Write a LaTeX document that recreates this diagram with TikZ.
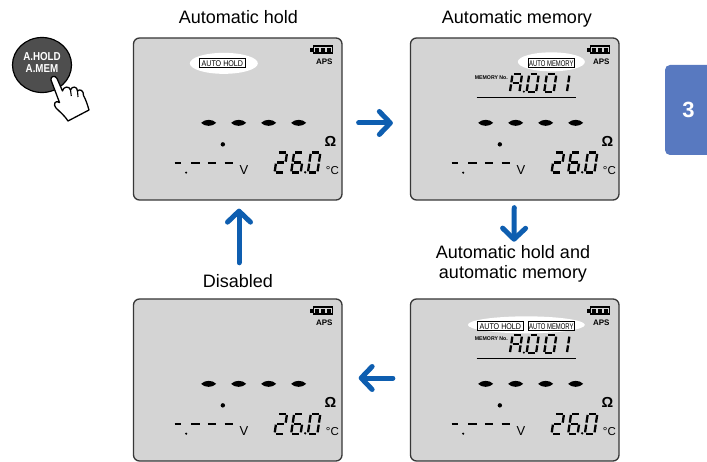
\documentclass[tikz,border=0pt]{standalone}
\usepackage{fontspec}
\usepackage{graphicx}
\setmainfont{Liberation Sans}
\usetikzlibrary{arrows.meta,calc,shapes.geometric}

\definecolor{lcdgray}{RGB}{212,212,212}
\definecolor{lcdframe}{RGB}{55,55,55}
\definecolor{flowblue}{RGB}{14,94,176}
\definecolor{tabblue}{RGB}{88,121,192}
\definecolor{keygray}{RGB}{78,78,78}

\tikzset{
  panel/.style={draw=lcdframe, line width=1.3pt, fill=lcdgray, rounded corners=6pt,
    minimum width=208.5pt, minimum height=162pt, inner sep=0pt},
  caption/.style={font=\fontsize{18}{20}\selectfont, align=center, inner sep=0pt},
  flow/.style={draw=flowblue, line width=5pt, line cap=round,
    -{Straight Barb[length=11pt,width=23pt,round]}},
  seg/.style={line width=2.3pt},
  minidash/.style={line width=2pt},
  glow/.style={ellipse, fill=white, draw=none, inner sep=0pt},
  indbox/.style={draw, line width=0.8pt, fill=white, minimum width=46.5pt,
    minimum height=9pt, inner sep=0pt},
  apslabel/.style={font=\bfseries\fontsize{8}{8}\selectfont, anchor=base, inner sep=0pt},
  ohmlabel/.style={font=\bfseries\fontsize{14.5}{14.5}\selectfont, anchor=base, inner sep=0pt},
  voltlabel/.style={font=\fontsize{13}{13}\selectfont, anchor=base, inner sep=0pt},
  deglabel/.style={font=\fontsize{11.5}{11.5}\selectfont, anchor=base, inner sep=0pt},
  memlabel/.style={anchor=base, inner sep=0pt},
  keycap/.style={ellipse, fill=keygray, draw=black, line width=1.2pt,
    minimum width=59pt, minimum height=55pt, inner sep=0pt},
  keytext/.style={font=\bfseries\fontsize{11.5}{11.5}\selectfont, text=white,
    align=center, inner sep=0pt},
  chaptertab/.style={fill=tabblue, rounded corners=5pt, minimum width=47pt,
    minimum height=90pt, inner sep=0pt, text=white,
    font=\bfseries\fontsize{22}{22}\selectfont},
}

% seven-segment pieces (local frame: origin bottom-left, y upwards)
\newcommand\lcdsega{\draw[seg] (1.3,\lcdh) -- (\lcdw-1.3,\lcdh);}
\newcommand\lcdsegb{\draw[seg] (\lcdw,\lcdh-1.3) -- (\lcdw,\lcdh/2+1);}
\newcommand\lcdsegc{\draw[seg] (\lcdw,\lcdh/2-1) -- (\lcdw,1.3);}
\newcommand\lcdsegd{\draw[seg] (1.3,0) -- (\lcdw-1.3,0);}
\newcommand\lcdsege{\draw[seg] (0,1.3) -- (0,\lcdh/2-1);}
\newcommand\lcdsegf{\draw[seg] (0,\lcdh/2+1) -- (0,\lcdh-1.3);}
\newcommand\lcdsegg{\draw[seg] (1.3,\lcdh/2) -- (\lcdw-1.3,\lcdh/2);}

% #1 x, #2 baseline y, #3 width, #4 height, #5 lit segments
\newcommand\lcddigit[5]{%
  \begin{scope}[shift={(#1,#2)}, y=1pt, xslant=0.15]
    \def\lcdw{#3}\def\lcdh{#4}
    \foreach \sg in {#5}{\csname lcdseg\sg\endcsname}
  \end{scope}}

% elements shown on every display
\newcommand\lcdcommon[1]{%
  \fill (177.5,10.3) rectangle (180,14.3);
  \draw[line width=1.4pt] (180.6,8.8) rectangle (199.6,15.8);
  \foreach \bx in {182.3,188.3,194.3} \fill (\bx,10.4) rectangle ++(4,3.8);
  \node[apslabel] (#1aps) at (191.5,27) {APS};
  \foreach \dx in {68.3,98.3,128.3,158.3}
    \fill[shift={(\dx,85.5)}] (0,0) .. controls (3.5,-4) and (11.5,-4) .. (15,0)
      .. controls (11.5,4) and (3.5,4) .. (0,0) -- cycle;
  \node[ohmlabel] (#1ohm) at (197.5,109.5) {Ω};
  \fill (90,107) circle (2.2pt);
  \draw[minidash] (41.7,125.3) -- (48.3,125.3) (58.3,125.3) -- (66.7,125.3)
    (75,125.3) -- (83.3,125.3) (91.7,125.3) -- (100,125.3);
  \fill (53.3,135.3) circle (1.2pt);
  \node[voltlabel] (#1volt) at (111,137) {V};
  \lcddigit{141.7}{135.3}{9.5}{20}{a,b,g,e,d}
  \lcddigit{158.3}{135.3}{9.5}{20}{a,f,g,e,d,c}
  \fill (172.3,135) circle (1.3pt);
  \lcddigit{175}{135.3}{9.5}{20}{a,b,c,d,e,f}
  \node[deglabel] (#1degc) at (199.5,137) {°C};
}

% memory number line
\newcommand\lcdmemory[1]{%
  \node[memlabel] (#1memno) at (81.5,42) {\resizebox{33pt}{3.8pt}{\bfseries MEMORY No.}};
  \lcddigit{100}{55}{9.5}{18}{a,b,c,e,f,g}
  \fill (114,54.3) circle (1.2pt);
  \lcddigit{116.7}{55}{9.5}{18}{a,b,c,d,e,f}
  \lcddigit{134.3}{55}{9.5}{18}{a,b,c,d,e,f}
  \lcddigit{147.5}{55}{9.5}{18}{b,c}
  \draw[line width=1pt] (66.7,59.7) -- (165.7,59.7);
}

\begin{document}
\begin{tikzpicture}[x=1pt,y=-1pt]
\useasboundingbox (0,0) rectangle (707,462);
\fill[white] (0,0) rectangle (707,462);

% captions
\node[caption, anchor=base] (capA) at (238.5,24) {Automatic hold};
\node[caption, anchor=base] (capB) at (517,24) {Automatic memory};
\node[caption] (capC) at (513,264.3) {Automatic hold and\\automatic memory};
\node[caption, anchor=base] (capD) at (238,288) {Disabled};

% displays
\node[panel] (p1) at (237.75,119) {};
\begin{scope}[shift={(p1.north west)}]
  \lcdcommon{p1}
  \node[glow, minimum width=68pt, minimum height=21pt] (p1glow) at (91,26) {};
  \node[indbox] (p1hold) at (89.5,26) {\resizebox{41.5pt}{5.8pt}{AUTO HOLD}};
\end{scope}

\node[panel] (p2) at (514.75,119) {};
\begin{scope}[shift={(p2.north west)}]
  \lcdcommon{p2}
  \lcdmemory{p2}
  \node[glow, minimum width=67pt, minimum height=19pt] (p2glow) at (141.5,24.5) {};
  \node[indbox] (p2mem) at (141.5,26) {\resizebox{44.5pt}{5.8pt}{AUTO MEMORY}};
\end{scope}

\node[panel] (p3) at (237.75,380) {};
\begin{scope}[shift={(p3.north west)}]
  \lcdcommon{p3}
\end{scope}

\node[panel] (p4) at (514.75,380) {};
\begin{scope}[shift={(p4.north west)}]
  \lcdcommon{p4}
  \lcdmemory{p4}
  \node[glow, minimum width=117pt, minimum height=17pt] (p4glow) at (116.5,26.5) {};
  \node[indbox] (p4hold) at (90.5,28) {\resizebox{41.5pt}{5.8pt}{AUTO HOLD}};
  \node[indbox] (p4mem) at (141.5,28) {\resizebox{44.5pt}{5.8pt}{AUTO MEMORY}};
\end{scope}

% cycle arrows
\draw[flow] ($(p1.east)+(16,4)$) -- ($(p2.west)+(-17,4)$);
\draw[flow] ($(p2.south)+(-0.5,7)$) -- ($(capC.north)+(1,-4)$);
\draw[flow] ($(p4.west)+(-17,-2)$) -- ($(p3.east)+(16,-2)$);
\draw[flow] ($(capD.north)+(1,-12)$) -- ($(p1.south)+(1.25,8)$);

% key
\node[keycap] (key) at (42,65) {};
\node[keytext] (keylbl) at (42,62.5) {\scalebox{0.85}[1]{A.HOLD}\\\scalebox{0.85}[1]{A.MEM}};

% pressing hand
\draw[line width=1.3pt, fill=white, line join=round] (51,80)
  .. controls (50,76) and (55.5,75) .. (57,78.5)
  -- (62.5,91)
  .. controls (63,86.5) and (69.5,85.5) .. (70.5,90)
  .. controls (72,85.5) and (77.5,86.5) .. (77.5,91)
  .. controls (79.5,88.5) and (84,90.5) .. (83.5,95.5)
  .. controls (86,100) and (87.5,105) .. (89,110)
  -- (68,121)
  .. controls (65,116) and (60,112) .. (56,108)
  .. controls (52.5,104.5) and (55.5,99.5) .. (59.5,102.5)
  -- cycle;
\draw[line width=1.1pt] (70.5,90) -- (71.3,96) (77.5,91) -- (78,97);

% chapter tab
\node[chaptertab] (tab) at (688.5,110) {3};
\end{tikzpicture}
\end{document}
